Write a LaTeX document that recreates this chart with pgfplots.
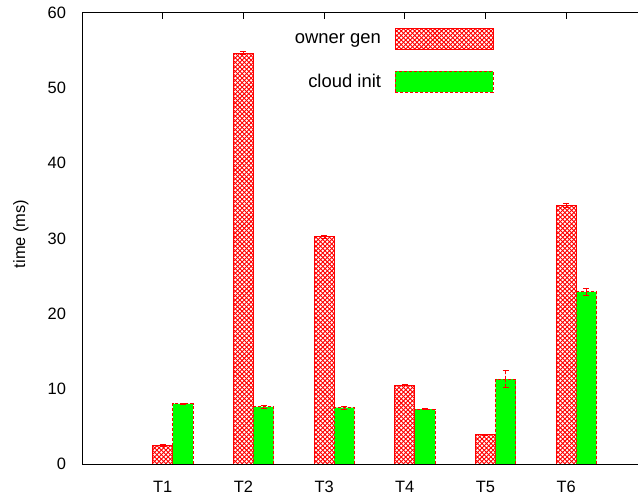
\documentclass[border=0pt]{standalone}
\usepackage{fontspec}
\setmainfont{Liberation Sans}
\usepackage{pgfplots}
\usepackage{pgfplotstable}
\pgfplotsset{compat=1.18}
\usetikzlibrary{patterns}
\definecolor{lgreen}{RGB}{0,255,0}
\pgfdeclarepatternformonly{dcross}{\pgfqpoint{-1pt}{-1pt}}{\pgfqpoint{5.5pt}{5.5pt}}{\pgfqpoint{4.5pt}{4.5pt}}{%
 \pgfsetlinewidth{0.9pt}%
 \pgfpathmoveto{\pgfqpoint{-0.1pt}{-0.1pt}}\pgfpathlineto{\pgfqpoint{4.6pt}{4.6pt}}%
 \pgfpathmoveto{\pgfqpoint{-0.1pt}{4.6pt}}\pgfpathlineto{\pgfqpoint{4.6pt}{-0.1pt}}%
 \pgfusepath{stroke}}
\pgfplotstableread{
x y e
1 2.5 0.1
2 54.6 0.2
3 30.2 0.15
4 10.5 0.1
5 3.9 0.05
6 34.4 0.3
}\ownertab
\pgfplotstableread{
x y e
1.25 8.0 0.1
2.25 7.6 0.15
3.25 7.5 0.2
4.25 7.3 0.1
5.25 11.3 1.1
6.25 22.9 0.5
}\cloudtab
\newcommand{\fs}{\fontsize{16.5}{19}\selectfont}
\newcommand{\fl}{\fontsize{18.5}{21}\selectfont}
\begin{document}
\begin{tikzpicture}
\begin{axis}[
 scale only axis, width=556bp, height=451.3bp,
 xmin=0, xmax=6.89, ymin=0, ymax=60,
 clip=false,
 axis line style={draw=none},
 ybar,
 legend image code/.code={\draw[#1] (0bp,-10.5bp) rectangle (98bp,10.5bp);},
 xtick={1,2,3,4,5,6}, xticklabels={T1,T2,T3,T4,T5,T6},
 xtick pos=right, xticklabel pos=left,
 ytick={0,10,...,60}, ytick pos=left,
 tick align=inside, major tick length=6bp,
 tick style={black, line width=0.8bp},
 ytick style={draw=none},
 xticklabel style={yshift=-13.5bp},
 yticklabel style={xshift=-12.5bp},
 /pgf/number format/assume math mode=true,
 tick label style={font=\fs},
 ylabel={time (ms)},
 every axis y label/.style={at={(axis description cs:-0.11,0.51)}, rotate=90, anchor=center, font=\fs},
 legend style={at={(rel axis cs:0.741,0.966)}, anchor=north east, draw=none, fill=none, inner sep=0pt, font=\fl, row sep=21bp, column sep=12bp},
 legend plot pos=right, legend cell align=right,
]
\addplot[bar shift=0pt, bar width=0.25, draw=red, line width=0.8bp, pattern=dcross, pattern color=red,
  error bars/.cd, y dir=both, y explicit,
  error bar style={red, line width=0.8bp, solid},
  error mark options={rotate=90, red, mark size=3bp, line width=0.8bp}]
  table[x=x, y=y, y error=e] {\ownertab};
\addlegendentry{owner gen}
\addplot[bar shift=0pt, bar width=0.25, draw=red, line width=0.8bp, fill=lgreen, dash pattern=on 3bp off 2bp,
  error bars/.cd, y dir=both, y explicit,
  error bar style={red, line width=0.8bp, dash pattern=on 3bp off 2bp},
  error mark options={rotate=90, red, mark size=3bp, line width=0.8bp}]
  table[x=x, y=y, y error=e] {\cloudtab};
\addlegendentry{cloud init}
\draw[black, line width=0.8bp] (rel axis cs:1,1) -- (rel axis cs:0,1) -- (rel axis cs:0,0) -- (rel axis cs:1,0);
\end{axis}
\pgfresetboundingbox
\path (current axis.south west) ++(-82bp,-40bp) rectangle ++(638bp,504bp);
\end{tikzpicture}
\end{document}
